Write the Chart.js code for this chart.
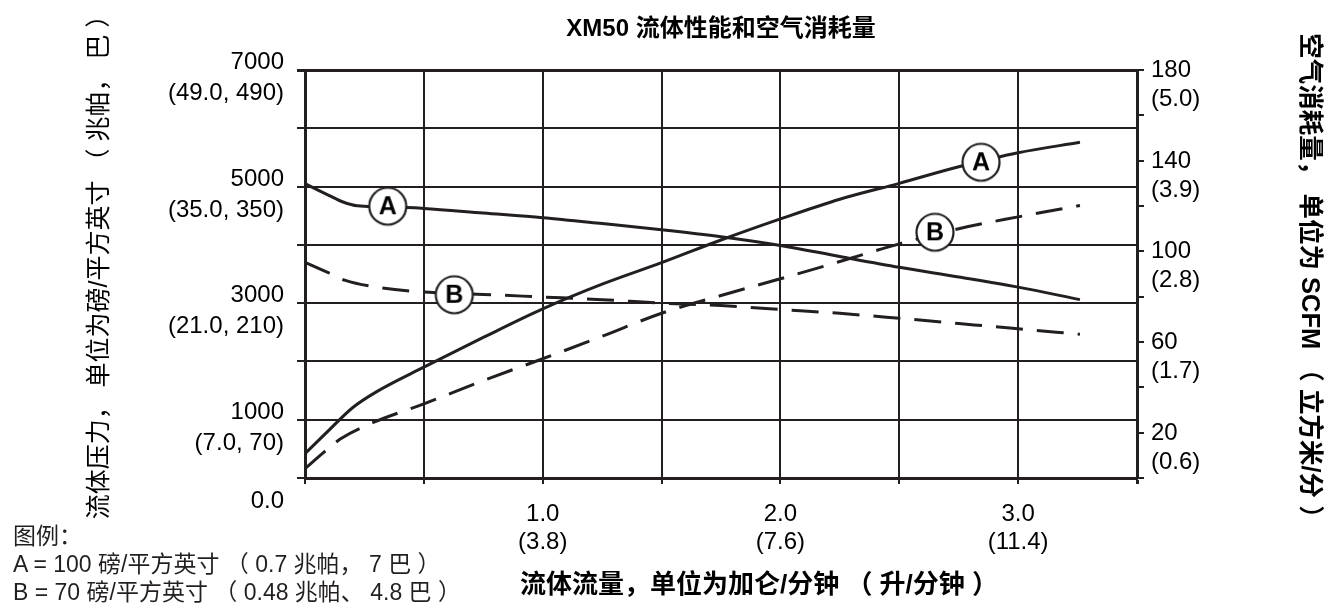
<!DOCTYPE html>
<html>
<head>
<meta charset="utf-8">
<script src="https://cdn.jsdelivr.net/npm/chart.js@4.4.0/dist/chart.umd.min.js"></script>
<style>
html,body{margin:0;padding:0;background:#fff;}
#wrap{position:relative;width:1343px;height:610px;overflow:hidden;}
#legend{position:absolute;left:13px;top:522px;font-family:"Liberation Sans","Noto Sans CJK SC",sans-serif;font-size:23px;line-height:28px;color:#231f20;white-space:nowrap;}
</style>
</head>
<body>
<div id="wrap">
<canvas id="c" width="1343" height="610"></canvas>
<div id="legend"><div>图例：</div><div>A = 100 磅/平方英寸 （ 0.7 兆帕， 7 巴 ）</div><div>B = 70 磅/平方英寸 （ 0.48 兆帕、 4.8 巴 ）</div></div>
</div>
<script>
// ---- data ----
const pressA_gpm = [0, 0.1, 0.16, 0.22, 0.43, 0.5, 0.75, 1.0, 1.25, 1.5, 1.75, 2.0, 2.25, 2.5, 2.75, 3.0, 3.26];
const pressA_psi = [5050, 4850, 4735, 4670, 4640, 4625, 4545, 4465, 4365, 4260, 4140, 3990, 3800, 3615, 3450, 3275, 3060];

const pressB_gpm = [0, 0.1, 0.17, 0.3, 0.5, 0.75, 1.0, 1.25, 1.5, 1.75, 2.0, 2.25, 2.5, 2.75, 3.0, 3.26];
const pressB_psi = [3700, 3520, 3390, 3275, 3190, 3150, 3105, 3060, 3000, 2960, 2890, 2825, 2740, 2650, 2560, 2465];

const airA_gpm = [0, 0.1, 0.2, 0.3, 0.5, 0.75, 1.0, 1.25, 1.5, 1.75, 2.0, 2.25, 2.5, 2.75, 3.0, 3.26];
const airA_scfm = [10.7, 21, 31, 38, 48.9, 62, 74.6, 85.5, 95, 105, 114.3, 123, 130, 137.3, 143.5, 148.1];

const airB_gpm = [0, 0.08, 0.15, 0.29, 0.5, 0.75, 1.0, 1.25, 1.5, 1.75, 2.0, 2.25, 2.5, 2.75, 3.0, 3.26];
const airB_scfm = [4.1, 11.4, 17.3, 24.6, 32.7, 43, 52.6, 62.5, 72.7, 80.5, 87.9, 95.5, 103.3, 110, 115.2, 120.2];

const markerLetters = ['A', 'B', 'A', 'B'];
const markerGpm = [0.348, 0.628, 2.844, 2.650];
const markerValue = [4663, 3143, 139.3, 108.4];
const markerAxis = ['y', 'y', 'y2', 'y2'];

const gpmLabelValues = [1, 2, 3];
const gpmLabelText = [['1.0', '(3.8)'], ['2.0', '(7.6)'], ['3.0', '(11.4)']];
const psiLabelValues = [7000, 5000, 3000, 1000, 0];
const psiLabelText = [['7000', '(49.0, 490)'], ['5000', '(35.0, 350)'], ['3000', '(21.0, 210)'], ['1000', '(7.0, 70)'], ['', '0.0']];
const scfmLabelValues = [180, 140, 100, 60, 20];
const scfmLabelText = [['180', '(5.0)'], ['140', '(3.9)'], ['100', '(2.8)'], ['60', '(1.7)'], ['20', '(0.6)']];

const chartTitle = 'XM50 流体性能和空气消耗量';
const xTitle = '流体流量，单位为加仑/分钟 （ 升/分钟 ）';
const leftTitle = '流体压力， 单位为磅/平方英寸 （ 兆帕， 巴 ）';
const rightTitle = '空气消耗量， 单位为 SCFM （ 立方米/分 ）';

// ---- styling ----
const FONT = '"Liberation Sans","Noto Sans CJK SC",sans-serif';
const INK = '#231f20';

function pairs(xs, ys) { return xs.map((x, i) => ({x: x, y: ys[i]})); }
function pick(vals, texts, v) {
  const i = vals.findIndex(t => Math.abs(t - v) < 1e-6);
  return i >= 0 ? texts[i] : '';
}
function badge(letter) {
  const c = document.createElement('canvas');
  c.width = 44; c.height = 44;
  const g = c.getContext('2d');
  g.beginPath(); g.arc(22, 22, 18.5, 0, Math.PI * 2);
  g.fillStyle = '#fff'; g.fill();
  g.lineWidth = 2.2; g.strokeStyle = INK; g.stroke();
  g.fillStyle = '#000'; g.font = 'bold 25px ' + FONT;
  g.textAlign = 'center'; g.textBaseline = 'middle';
  g.fillText(letter, 22, 23.5);
  return c;
}

// axis titles drawn next to the chart area
const axisTitles = {
  id: 'axisTitles',
  afterDraw(chart) {
    const g = chart.ctx, a = chart.chartArea;
    g.save();
    g.fillStyle = '#000'; g.textAlign = 'center'; g.textBaseline = 'middle';
    g.font = '25px ' + FONT;
    g.translate(100, (a.top + a.bottom) / 2 - 13); g.rotate(-Math.PI / 2);
    g.fillText(leftTitle, 0, 0);
    g.setTransform(1, 0, 0, 1, 0, 0);
    g.font = 'bold 25.5px ' + FONT;
    g.translate(1309, (a.top + a.bottom) / 2 + 8); g.rotate(Math.PI / 2);
    g.fillText(rightTitle, 0, 0);
    g.setTransform(1, 0, 0, 1, 0, 0);
    g.font = 'bold 26px ' + FONT;
    g.fillText(xTitle, (a.left + a.right) / 2 + 38, 586);
    g.restore();
  }
};

const lineBase = {borderColor: INK, borderWidth: 3, pointRadius: 0, fill: false, cubicInterpolationMode: 'monotone', order: 2, borderCapStyle: 'butt'};
const datasets = [
  Object.assign({label: 'A psi', data: pairs(pressA_gpm, pressA_psi), yAxisID: 'y'}, lineBase),
  Object.assign({label: 'B psi', data: pairs(pressB_gpm, pressB_psi), yAxisID: 'y', borderDash: [27, 14]}, lineBase),
  Object.assign({label: 'A scfm', data: pairs(airA_gpm, airA_scfm), yAxisID: 'y2'}, lineBase),
  Object.assign({label: 'B scfm', data: pairs(airB_gpm, airB_scfm), yAxisID: 'y2', borderDash: [27, 14]}, lineBase)
];
markerLetters.forEach((L, i) => {
  datasets.push({label: 'mark' + i, data: [{x: markerGpm[i], y: markerValue[i]}], yAxisID: markerAxis[i],
    showLine: false, pointStyle: badge(L), pointRadius: 20, order: 0});
});

const tickFont = {family: FONT, size: 24};

new Chart(document.getElementById('c'), {
  type: 'line',
  data: {datasets: datasets},
  plugins: [axisTitles],
  options: {
    responsive: false,
    animation: false,
    layout: {padding: 0},
    plugins: {
      legend: {display: false},
      tooltip: {enabled: false},
      title: {display: true, text: chartTitle, fullSize: false, color: '#000',
        font: {family: FONT, size: 24, weight: 'bold', lineHeight: 1.2}, padding: {top: 14.6, bottom: 26.6}}
    },
    scales: {
      x: {
        type: 'linear', min: 0, max: 3.5,
        ticks: {stepSize: 0.5, autoSkip: false, maxRotation: 0, minRotation: 0, padding: 16, color: '#000',
          font: Object.assign({lineHeight: 1.17}, tickFont),
          callback: v => pick(gpmLabelValues, gpmLabelText, v)},
        grid: {color: INK, lineWidth: c => (c.tick && Math.abs(c.tick.value - 3.5) < 1e-6) ? 3 : 2, tickLength: 6, drawTicks: true},
        border: {display: true, color: INK, width: 3},
        afterFit: s => { s.height = 132; s.paddingLeft = 0; s.paddingRight = 0; }
      },
      y: {
        position: 'left', min: 0, max: 7000,
        ticks: {stepSize: 1000, autoSkip: false, padding: 13, labelOffset: 8, color: '#000',
          font: Object.assign({lineHeight: 1.3}, tickFont),
          callback: v => pick(psiLabelValues, psiLabelText, v)},
        grid: {color: INK, lineWidth: c => (c.tick && c.tick.value === 7000) ? 3 : 2, tickLength: 8},
        border: {display: true, color: INK, width: 3},
        afterFit: s => { s.width = 305; s.paddingTop = 0; s.paddingBottom = 0; }
      },
      y2: {
        position: 'right', min: 0, max: 180,
        ticks: {stepSize: 20, autoSkip: false, padding: 7, labelOffset: 15, color: '#000',
          font: Object.assign({lineHeight: 1.21}, tickFont),
          callback: v => pick(scfmLabelValues, scfmLabelText, v)},
        grid: {drawOnChartArea: false, color: INK, lineWidth: 2, tickLength: 7},
        border: {display: true, color: INK, width: 3},
        afterFit: s => { s.width = 206; s.paddingTop = 0; s.paddingBottom = 0; }
      }
    }
  }
});
</script>
</body>
</html>
